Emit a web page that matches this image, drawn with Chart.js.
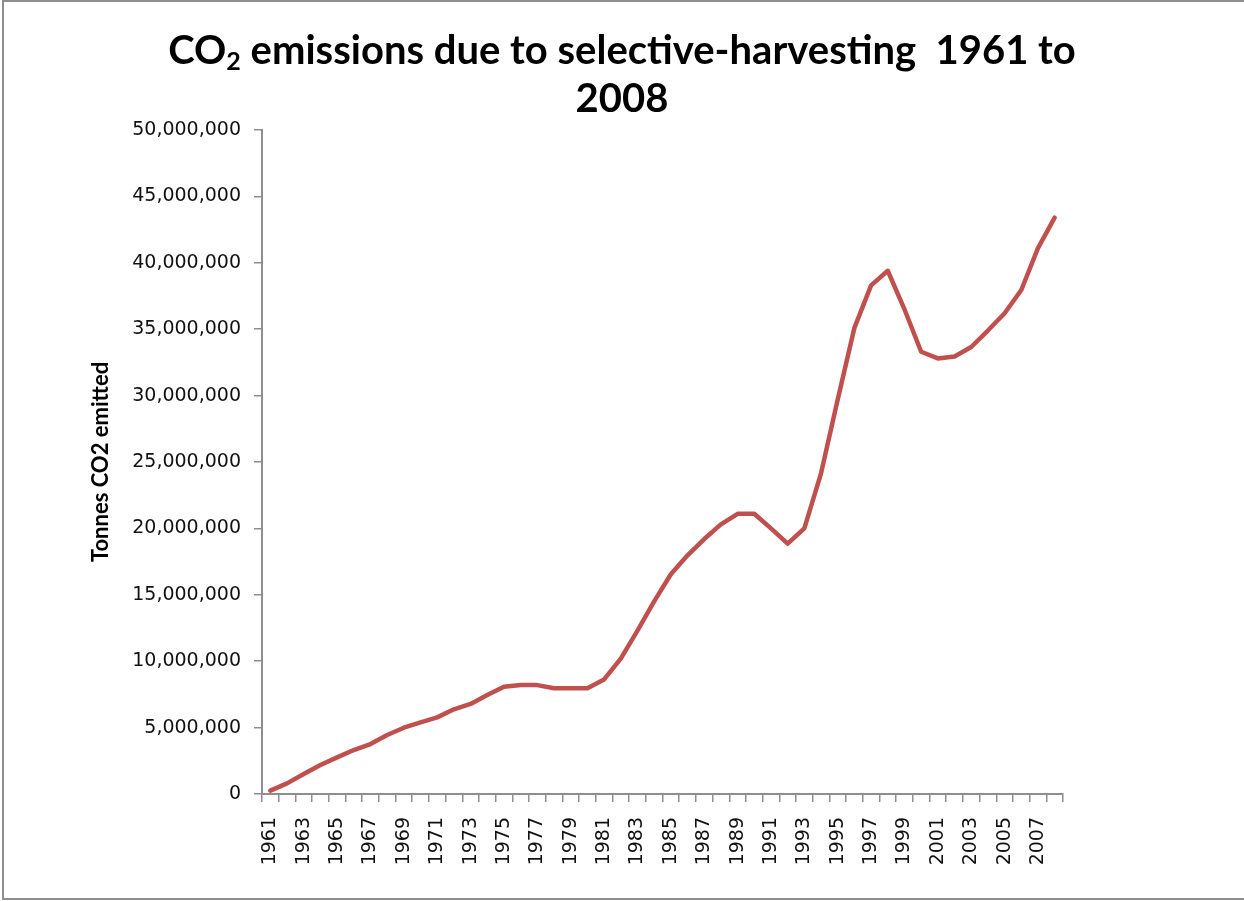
<!DOCTYPE html>
<html>
<head>
<meta charset="utf-8">
<title>CO2 emissions due to selective-harvesting</title>
<script src="https://cdn.jsdelivr.net/npm/chart.js@4.4.1/dist/chart.umd.min.js"></script>
<style>
  html, body { margin: 0; padding: 0; background: #fff; }
  #wrap { position: relative; width: 1244px; height: 901px; overflow: hidden; }
  #frame { position: absolute; left: 2px; top: 0; width: 1300px; height: 896px; border: 2px solid #8e8e8e; }
  #title { position: absolute; left: 0; top: 25px; width: 1244px; text-align: center;
           font-family: Lato, "Open Sans", sans-serif; font-weight: bold; font-size: 40px;
           line-height: 48px; color: #000; }
  #title sub { font-size: 25px; line-height: 0; vertical-align: -6px; }
  #chartBox { position: absolute; left: 0; top: 0; width: 1244px; height: 901px; }
</style>
</head>
<body>
<div id="wrap">
  <div id="frame"></div>
  <div id="chartBox"><canvas id="co2Chart"></canvas></div>
  <div id="title">CO<sub>2</sub> emissions due to selective-harvesting&nbsp; 1961 to<br>2008</div>
</div>
<script>
// --- Data ---
const years = [
  '1961','1962','1963','1964','1965','1966','1967','1968','1969','1970',
  '1971','1972','1973','1974','1975','1976','1977','1978','1979','1980',
  '1981','1982','1983','1984','1985','1986','1987','1988','1989','1990',
  '1991','1992','1993','1994','1995','1996','1997','1998','1999','2000',
  '2001','2002','2003','2004','2005','2006','2007','2008'
];
const tonnesCO2 = [
  250000, 800000, 1500000, 2180000, 2760000, 3310000, 3760000, 4440000, 4990000, 5400000,
  5770000, 6380000, 6780000, 7450000, 8080000, 8200000, 8200000, 7960000, 7960000, 7960000,
  8630000, 10200000, 12300000, 14500000, 16550000, 17970000, 19200000, 20300000, 21100000, 21100000,
  20000000, 18850000, 20000000, 24150000, 29700000, 35100000, 38300000, 39400000, 36500000, 33300000,
  32800000, 32950000, 33660000, 34900000, 36200000, 37950000, 41100000, 43400000
];
const yTicks = [0, 5000000, 10000000, 15000000, 20000000, 25000000, 30000000, 35000000, 40000000, 45000000, 50000000];

// --- Layout (plot area in page pixels) ---
const plotLeft = 262, plotRight = 1063, plotTop = 130, plotBottom = 794;
const padLeft = 88;
const axisGray = '#8e8e8e';
const tickFont = { family: '"DejaVu Sans", Verdana, sans-serif', size: 19 };

const ctx = document.getElementById('co2Chart');
new Chart(ctx, {
  type: 'line',
  data: {
    labels: years,
    datasets: [{
      data: tonnesCO2,
      borderColor: '#c0504d',
      borderWidth: 4.5,
      pointRadius: 0,
      tension: 0,
      fill: false,
      borderJoinStyle: 'round',
      borderCapStyle: 'round'
    }]
  },
  options: {
    responsive: true,
    maintainAspectRatio: false,
    animation: false,
    layout: { padding: { left: padLeft, top: plotTop, right: 1244 - plotRight, bottom: 0 } },
    plugins: { legend: { display: false }, tooltip: { enabled: false }, title: { display: false } },
    scales: {
      x: {
        type: 'category',
        offset: true,
        grid: { display: true, offset: true, drawOnChartArea: false, drawTicks: true, tickLength: 8, color: axisGray, lineWidth: 1.5 },
        border: { display: true, color: axisGray, width: 2 },
        ticks: {
          autoSkip: false,
          maxRotation: 90,
          minRotation: 90,
          padding: 15,
          color: '#111',
          font: tickFont,
          callback: function(val, i) { return i % 2 === 0 ? years[i] : ''; }
        },
        afterFit: function(s) { s.height = 901 - plotBottom; }
      },
      y: {
        min: 0,
        max: 50000000,
        afterBuildTicks: function(s) { s.ticks = yTicks.map(v => ({ value: v })); },
        grid: { display: true, drawOnChartArea: false, drawTicks: true, tickLength: 8, color: axisGray, lineWidth: 1.5 },
        border: { display: true, color: axisGray, width: 2 },
        ticks: {
          padding: 13,
          color: '#111',
          font: tickFont,
          callback: function(v) { return v.toLocaleString('en-US'); }
        },
        title: {
          display: true,
          text: 'Tonnes CO2 emitted',
          color: '#000',
          padding: 0,
          font: { family: 'Lato, "Open Sans", sans-serif', weight: 'bold', size: 22 }
        },
        afterFit: function(s) { s.width = plotLeft - padLeft; }
      }
    }
  }
});
</script>
</body>
</html>
